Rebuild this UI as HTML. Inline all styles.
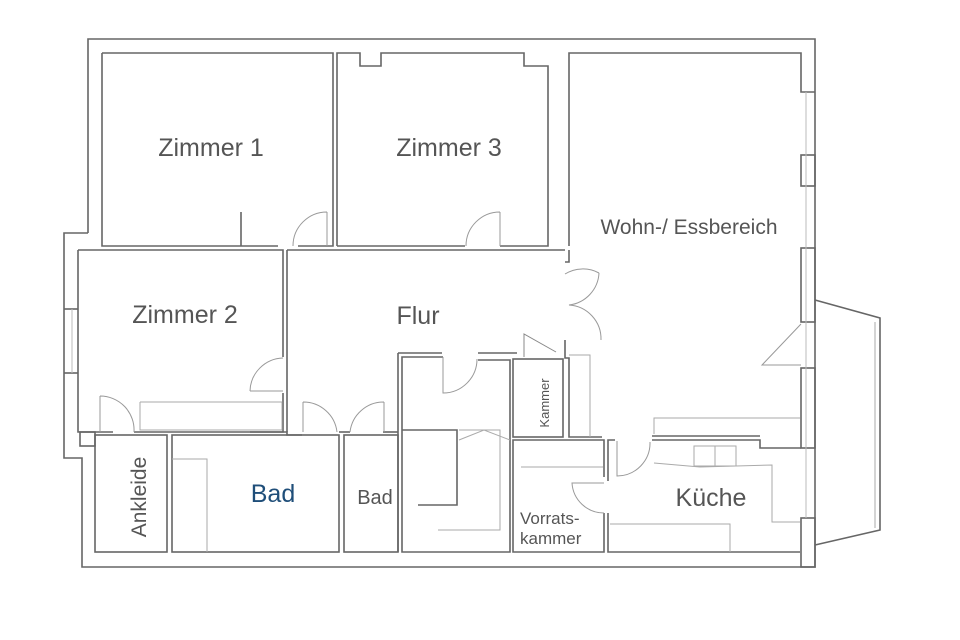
<!DOCTYPE html>
<html><head><meta charset="utf-8"><style>
html,body{margin:0;padding:0;background:#fff;}
svg{display:block}
text{font-family:"Liberation Sans",sans-serif;fill:#555;}
</style></head><body>
<svg width="960" height="640" viewBox="0 0 960 640">
<g fill="none" stroke="#666" stroke-width="1.6">
<polyline points="88,233 88,39 815,39 815,567 82,567 82,458 64,458 64,233 88,233"/>
<polyline points="102,53 333,53 333,246 298,246"/>
<polyline points="278,246 102,246 102,53"/>
<line x1="241" y1="212" x2="241" y2="246"/>
<polyline points="337,246 337,53 360,53 360,66 381,66 381,53 524,53 524,66 548,66 548,246 500,246"/>
<line x1="337" y1="246" x2="465" y2="246"/>
<polyline points="569,246 569,53 801,53 801,92 815,92"/>
<rect x="801" y="155" width="14" height="31"/>
<rect x="801" y="248" width="14" height="74"/>
<rect x="801" y="368" width="14" height="80"/>
<rect x="801" y="518" width="14" height="49"/>
<line x1="806" y1="92" x2="806" y2="518" stroke="#bbb" stroke-width="1"/>
<polyline points="815,300 880,318 880,530 815,545"/>
<line x1="875" y1="322" x2="875" y2="528" stroke="#aaa" stroke-width="1"/>
<polyline points="801,324 762,365 801,365" stroke="#999" stroke-width="1"/>
<polyline points="569,250 569,262 565,262"/>
<polyline points="565,340 565,358 569,358 569,437 602,437"/>
<polyline points="78,250 283,250 283,357"/>
<polyline points="283,393 283,432 250,432"/>
<polyline points="113,432 78,432 78,250"/>
<line x1="287" y1="250" x2="287" y2="432"/>
<line x1="287" y1="250" x2="565" y2="250"/>
<line x1="64" y1="309" x2="78" y2="309"/><line x1="64" y1="373" x2="78" y2="373"/>
<line x1="72" y1="309" x2="72" y2="373" stroke="#bbb" stroke-width="1"/>
<rect x="80" y="432" width="15" height="14"/>
<polyline points="140,402 140,430 282,430 282,402 140,402" stroke="#aaa" stroke-width="1"/>
<polyline points="134,432 287,432 287,435 302,435"/>
<rect x="95" y="435" width="72" height="117"/>
<rect x="172" y="435" width="167" height="117"/>
<polyline points="172,459 207,459 207,552" stroke="#aaa" stroke-width="1"/>
<rect x="344" y="435" width="54" height="117"/>
<line x1="339" y1="432" x2="350" y2="432"/>
<line x1="383" y1="432" x2="398" y2="432"/>
<polyline points="443,357 402,357 402,552 510,552 510,360 478,360"/>
<line x1="398" y1="353" x2="398" y2="552"/>
<polyline points="398,353 442,353"/><polyline points="478,353 517,353"/>
<polyline points="402,430 457,430 457,505 418,505"/>
<polyline points="459,430 500,430 500,530 438,530" stroke="#aaa" stroke-width="1"/>
<polyline points="459,440 484,430 510,440" stroke="#aaa" stroke-width="1"/>
<rect x="513" y="359" width="50" height="78"/>
<polyline points="524,357 524,334 556,352" stroke="#888" stroke-width="1"/>
<polyline points="569,355 590,355 590,437" stroke="#aaa" stroke-width="1"/>
<polyline points="604,477 604,440 513,440 513,552 604,552 604,513"/>
<line x1="521" y1="467" x2="603" y2="467" stroke="#aaa" stroke-width="1"/>
<polyline points="608,481 608,440 615,440"/>
<polyline points="608,513 608,552 800,552"/>
<polyline points="652,440 760,440 760,448 801,448"/>
<line x1="652" y1="436" x2="760" y2="436"/>
<polyline points="654,434 654,418 800,418" stroke="#aaa" stroke-width="1"/>
<polyline points="654,463 700,467 772,465 772,522 800,522" stroke="#aaa" stroke-width="1"/>
<rect x="694" y="446" width="42" height="20" stroke="#aaa" stroke-width="1"/>
<line x1="715" y1="446" x2="715" y2="466" stroke="#aaa" stroke-width="1"/>
<polyline points="610,524 730,524 730,552" stroke="#aaa" stroke-width="1"/>
</g>
<g fill="none" stroke="#999" stroke-width="1">
<path d="M327,212 L327,246 M327,212 A34,34 0 0 0 293,246"/>
<path d="M500,212 L500,246 M500,212 A34,34 0 0 0 466,246"/>
<path d="M565,274 A34,34 0 0 1 599,273 M599,273 A34,34 0 0 1 569,305 A34,34 0 0 1 601,340"/>
<path d="M250,391 L283,391 M283,358 A34,34 0 0 0 250,391"/>
<path d="M100,396 L100,432 M100,396 A34,34 0 0 1 134,432"/>
<path d="M303,402 L303,432 M303,402 A34,34 0 0 1 337,432"/>
<path d="M384,402 L384,432 M384,402 A34,34 0 0 0 350,432"/>
<path d="M443,357 L443,393 A34,34 0 0 0 477,359"/>
<path d="M617,441 L617,476 A33,33 0 0 0 650,442"/>
<path d="M604,483 L572,483 A32,32 0 0 0 604,513"/>
</g>
<g font-size="25">
<text x="211" y="156" text-anchor="middle">Zimmer 1</text>
<text x="449" y="156" text-anchor="middle">Zimmer 3</text>
<text x="185" y="323" text-anchor="middle">Zimmer 2</text>
<text x="418" y="324" text-anchor="middle">Flur</text>
<text x="711" y="506" text-anchor="middle">Küche</text>
<text x="273" y="502" text-anchor="middle" style="fill:#1f4e79">Bad</text>
</g>
<text x="689" y="234" font-size="21" text-anchor="middle">Wohn-/ Essbereich</text>
<text x="375" y="504" font-size="20" text-anchor="middle">Bad</text>
<text x="520" y="524" font-size="17">Vorrats-</text>
<text x="520" y="544" font-size="17">kammer</text>
<text transform="translate(146,497) rotate(-90)" font-size="21" text-anchor="middle">Ankleide</text>
<text transform="translate(549,403) rotate(-90)" font-size="13" text-anchor="middle">Kammer</text>
</svg>
</body></html>
